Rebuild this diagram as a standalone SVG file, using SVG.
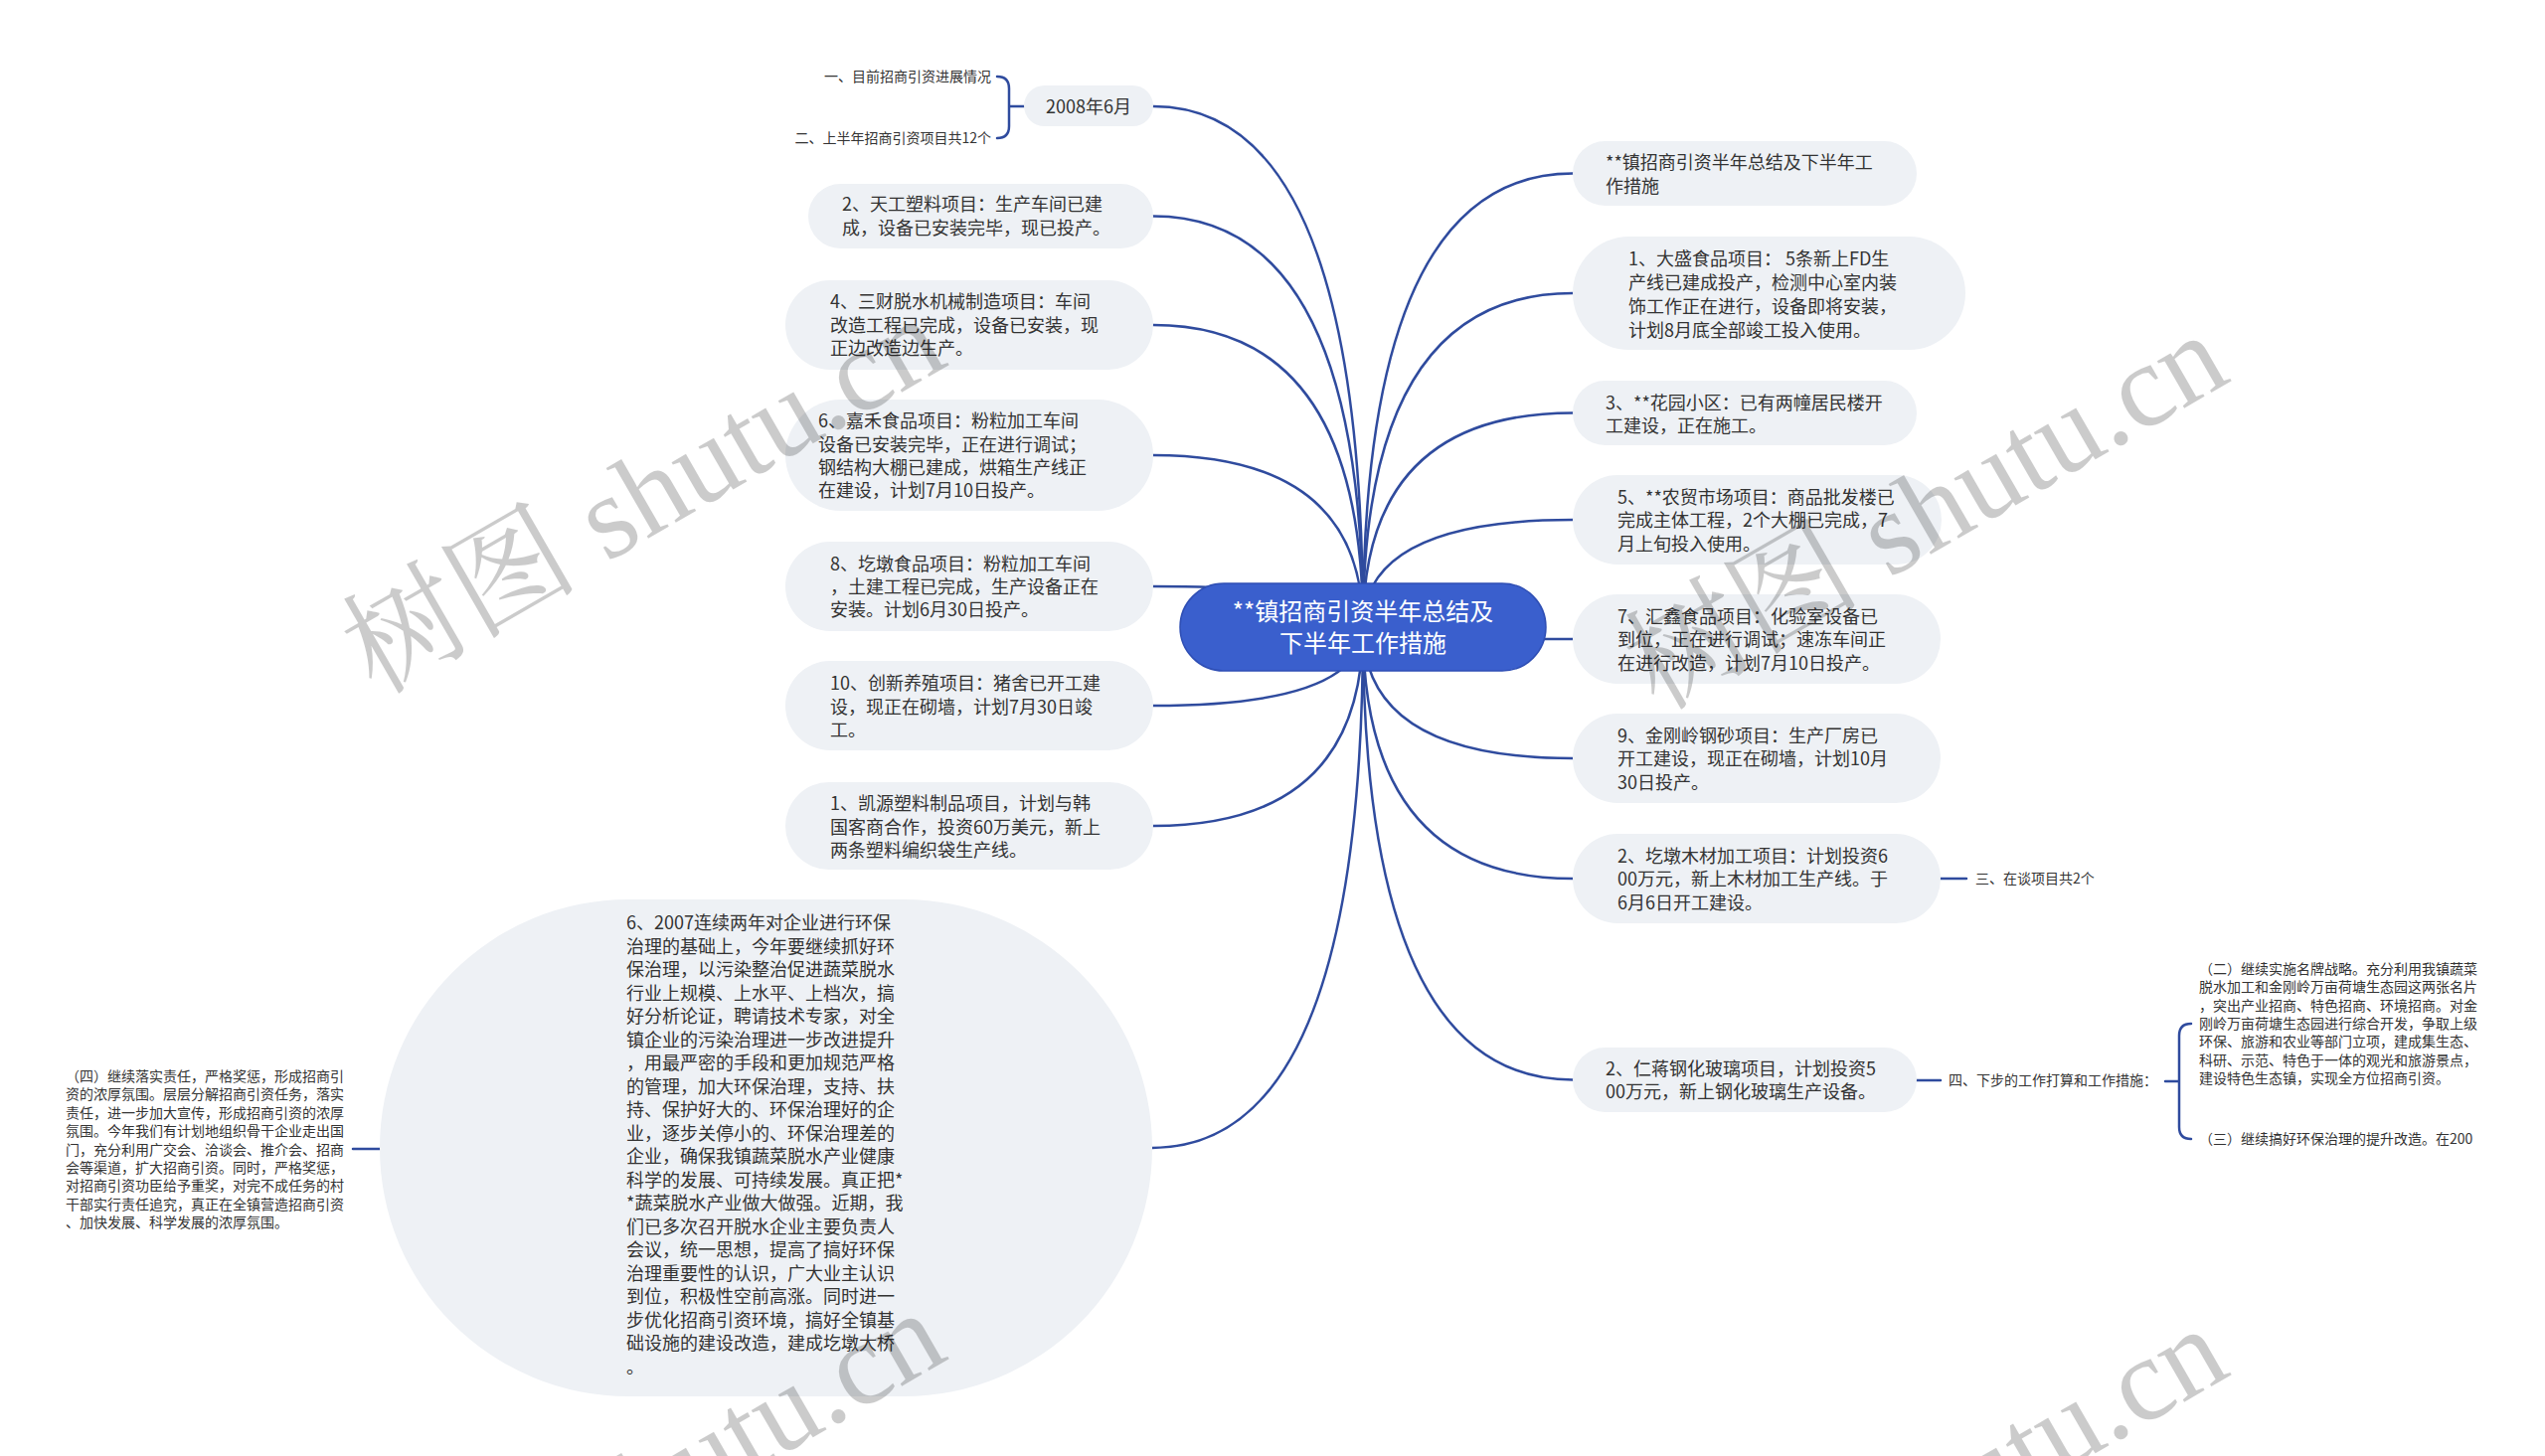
<svg xmlns="http://www.w3.org/2000/svg" width="2560" height="1465" viewBox="0 0 2560 1465">
<style>
.box{fill:#eef1f5}
.t{font-family:"Noto Sans CJK SC","Noto Sans",sans-serif;font-size:18px;fill:#333}
.s{font-family:"Noto Sans CJK SC","Noto Sans",sans-serif;font-size:14px;fill:#333}
.c{font-family:"Noto Sans CJK SC","Noto Sans",sans-serif;font-size:24px;fill:#fff}
.ln{fill:none;stroke:#2f4b9e;stroke-width:2.5;stroke-linecap:round}
.wm{font-family:"Liberation Serif","Noto Serif CJK SC","Noto Sans CJK SC",serif;font-size:119px;fill:#000;opacity:0.2}
</style>
<rect width="2560" height="1465" fill="#fff"/>
<g id="connectors">
<path class="ln" d="M1371 631 Q1371 107 1160 107"/>
<path class="ln" d="M1371 631 Q1371 217.5 1160 217.5"/>
<path class="ln" d="M1371 631 Q1371 327 1160 327"/>
<path class="ln" d="M1371 631 Q1371 458 1160 458"/>
<path class="ln" d="M1371 631 Q1371 590 1160 590"/>
<path class="ln" d="M1371 631 Q1371 710 1160 710"/>
<path class="ln" d="M1371 631 Q1371 831 1160 831"/>
<path class="ln" d="M1371 631 Q1371 1155 1159 1155"/>
<path class="ln" d="M1371 631 Q1371 174.5 1582 174.5"/>
<path class="ln" d="M1371 631 Q1371 295 1582 295"/>
<path class="ln" d="M1371 631 Q1371 415.5 1582 415.5"/>
<path class="ln" d="M1371 631 Q1371 523 1582 523"/>
<path class="ln" d="M1371 631 Q1371 643 1582 643"/>
<path class="ln" d="M1371 631 Q1371 763 1582 763"/>
<path class="ln" d="M1371 631 Q1371 884 1582 884"/>
<path class="ln" d="M1371 631 Q1371 1086.5 1582 1086.5"/>
<path class="ln" d="M1003 77 Q1015 77 1015 89 L1015 127 Q1015 139 1003 139 M1015 107 L1030 107"/>
<path class="ln" d="M1952 884 L1978 884"/>
<path class="ln" d="M1928 1087 L1952 1087"/>
<path class="ln" d="M2204 1030 Q2192 1030 2192 1042 L2192 1134 Q2192 1146 2204 1146 M2192 1088 L2178 1088"/>
<path class="ln" d="M382 1156 L355 1156"/>
</g>
<g id="root">
<rect x="1187" y="587" width="368" height="88" rx="44" fill="#3a5fcd" stroke="#2f4fb5" stroke-width="1.5"/>
<text class="c" x="1371" y="624" text-anchor="middle">**镇招商引资半年总结及</text>
<text class="c" x="1371" y="656" text-anchor="middle">下半年工作措施</text>
</g>
<g id="n2008">
<rect class="box" x="1030" y="86" width="130" height="41" rx="20.5"/>
<text class="t" x="1095" y="114" text-anchor="middle">2008年6月</text>
</g>
<g id="n2008a"><text class="s" x="997" y="82" text-anchor="end">一、目前招商引资进展情况</text></g>
<g id="n2008b"><text class="s" x="997" y="144" text-anchor="end">二、上半年招商引资项目共12个</text></g>
<g id="nL2">
<rect class="box" x="813" y="185" width="347" height="65" rx="32.5"/>
<text class="t" x="847" y="212">2、天工塑料项目：生产车间已建</text>
<text class="t" x="847" y="236">成，设备已安装完毕，现已投产。</text>
</g>
<g id="nL4">
<rect class="box" x="790" y="282" width="370" height="90" rx="45"/>
<text class="t" x="835" y="310">4、三财脱水机械制造项目：车间</text>
<text class="t" x="835" y="333.5">改造工程已完成，设备已安装，现</text>
<text class="t" x="835" y="357">正边改造边生产。</text>
</g>
<g id="nL6">
<rect class="box" x="790" y="402" width="370" height="112" rx="56"/>
<text class="t" x="823" y="430">6、嘉禾食品项目：粉粒加工车间</text>
<text class="t" x="823" y="454">设备已安装完毕，正在进行调试；</text>
<text class="t" x="823" y="477">钢结构大棚已建成，烘箱生产线正</text>
<text class="t" x="823" y="500">在建设，计划7月10日投产。</text>
</g>
<g id="nL8">
<rect class="box" x="790" y="545" width="370" height="90" rx="45"/>
<text class="t" x="835" y="574">8、圪墩食品项目：粉粒加工车间</text>
<text class="t" x="835" y="597">，土建工程已完成，生产设备正在</text>
<text class="t" x="835" y="620">安装。计划6月30日投产。</text>
</g>
<g id="nL10">
<rect class="box" x="790" y="665" width="370" height="90" rx="45"/>
<text class="t" x="835" y="694">10、创新养殖项目：猪舍已开工建</text>
<text class="t" x="835" y="718">设，现正在砌墙，计划7月30日竣</text>
<text class="t" x="835" y="741">工。</text>
</g>
<g id="nL1">
<rect class="box" x="790" y="787" width="370" height="88" rx="44"/>
<text class="t" x="835" y="815">1、凯源塑料制品项目，计划与韩</text>
<text class="t" x="835" y="839">国客商合作，投资60万美元，新上</text>
<text class="t" x="835" y="862">两条塑料编织袋生产线。</text>
</g>
<g id="nBig">
<rect class="box" x="382" y="905" width="777" height="500" rx="250"/>
<text class="t" x="630" y="935">6、2007连续两年对企业进行环保</text>
<text class="t" x="630" y="958.5">治理的基础上，今年要继续抓好环</text>
<text class="t" x="630" y="982">保治理，以污染整治促进蔬菜脱水</text>
<text class="t" x="630" y="1005.5">行业上规模、上水平、上档次，搞</text>
<text class="t" x="630" y="1029">好分析论证，聘请技术专家，对全</text>
<text class="t" x="630" y="1052.5">镇企业的污染治理进一步改进提升</text>
<text class="t" x="630" y="1076">，用最严密的手段和更加规范严格</text>
<text class="t" x="630" y="1099.5">的管理，加大环保治理，支持、扶</text>
<text class="t" x="630" y="1123">持、保护好大的、环保治理好的企</text>
<text class="t" x="630" y="1146.5">业，逐步关停小的、环保治理差的</text>
<text class="t" x="630" y="1170">企业，确保我镇蔬菜脱水产业健康</text>
<text class="t" x="630" y="1193.5">科学的发展、可持续发展。真正把*</text>
<text class="t" x="630" y="1217">*蔬菜脱水产业做大做强。近期，我</text>
<text class="t" x="630" y="1240.5">们已多次召开脱水企业主要负责人</text>
<text class="t" x="630" y="1264">会议，统一思想，提高了搞好环保</text>
<text class="t" x="630" y="1287.5">治理重要性的认识，广大业主认识</text>
<text class="t" x="630" y="1311">到位，积极性空前高涨。同时进一</text>
<text class="t" x="630" y="1334.5">步优化招商引资环境，搞好全镇基</text>
<text class="t" x="630" y="1358">础设施的建设改造，建成圪墩大桥</text>
<text class="t" x="630" y="1381.5">。</text>
</g>
<g id="nBigChild">
<text class="s" x="66" y="1088">（四）继续落实责任，严格奖惩，形成招商引</text>
<text class="s" x="66" y="1106.4">资的浓厚氛围。层层分解招商引资任务，落实</text>
<text class="s" x="66" y="1124.8">责任，进一步加大宣传，形成招商引资的浓厚</text>
<text class="s" x="66" y="1143.2">氛围。今年我们有计划地组织骨干企业走出国</text>
<text class="s" x="66" y="1161.6">门，充分利用广交会、洽谈会、推介会、招商</text>
<text class="s" x="66" y="1180">会等渠道，扩大招商引资。同时，严格奖惩，</text>
<text class="s" x="66" y="1198.4">对招商引资功臣给予重奖，对完不成任务的村</text>
<text class="s" x="66" y="1216.8">干部实行责任追究，真正在全镇营造招商引资</text>
<text class="s" x="66" y="1235.2">、加快发展、科学发展的浓厚氛围。</text>
</g>
<g id="nR0">
<rect class="box" x="1582" y="142" width="346" height="65" rx="32.5"/>
<text class="t" x="1615" y="170">**镇招商引资半年总结及下半年工</text>
<text class="t" x="1615" y="194">作措施</text>
</g>
<g id="nR1">
<rect class="box" x="1582" y="238" width="395" height="114" rx="57"/>
<text class="t" x="1638" y="267">1、大盛食品项目： 5条新上FD生</text>
<text class="t" x="1638" y="291">产线已建成投产，检测中心室内装</text>
<text class="t" x="1638" y="315">饰工作正在进行，设备即将安装，</text>
<text class="t" x="1638" y="339">计划8月底全部竣工投入使用。</text>
</g>
<g id="nR3">
<rect class="box" x="1582" y="383" width="346" height="65" rx="32.5"/>
<text class="t" x="1615" y="412">3、**花园小区：已有两幢居民楼开</text>
<text class="t" x="1615" y="435">工建设，正在施工。</text>
</g>
<g id="nR5">
<rect class="box" x="1582" y="478" width="371" height="90" rx="45"/>
<text class="t" x="1627" y="507">5、**农贸市场项目：商品批发楼已</text>
<text class="t" x="1627" y="530">完成主体工程，2个大棚已完成，7</text>
<text class="t" x="1627" y="554">月上旬投入使用。</text>
</g>
<g id="nR7">
<rect class="box" x="1582" y="598" width="370" height="90" rx="45"/>
<text class="t" x="1627" y="627">7、汇鑫食品项目：化验室设备已</text>
<text class="t" x="1627" y="650">到位，正在进行调试；速冻车间正</text>
<text class="t" x="1627" y="674">在进行改造，计划7月10日投产。</text>
</g>
<g id="nR9">
<rect class="box" x="1582" y="718" width="370" height="90" rx="45"/>
<text class="t" x="1627" y="747">9、金刚岭钢砂项目：生产厂房已</text>
<text class="t" x="1627" y="770">开工建设，现正在砌墙，计划10月</text>
<text class="t" x="1627" y="794">30日投产。</text>
</g>
<g id="nR2a">
<rect class="box" x="1582" y="839" width="370" height="90" rx="45"/>
<text class="t" x="1627" y="868">2、圪墩木材加工项目：计划投资6</text>
<text class="t" x="1627" y="891">00万元，新上木材加工生产线。于</text>
<text class="t" x="1627" y="915">6月6日开工建设。</text>
</g>
<g id="nR2aChild"><text class="s" x="1987" y="889">三、在谈项目共2个</text></g>
<g id="nR2b">
<rect class="box" x="1582" y="1054" width="346" height="65" rx="32.5"/>
<text class="t" x="1615" y="1082">2、仁蒋钢化玻璃项目，计划投资5</text>
<text class="t" x="1615" y="1105">00万元，新上钢化玻璃生产设备。</text>
</g>
<g id="nR2bChild"><text class="s" x="1960" y="1092">四、下步的工作打算和工作措施：</text></g>
<g id="nStep2">
<text class="s" x="2212" y="980">（二）继续实施名牌战略。充分利用我镇蔬菜</text>
<text class="s" x="2212" y="998.3">脱水加工和金刚岭万亩荷塘生态园这两张名片</text>
<text class="s" x="2212" y="1016.6">，突出产业招商、特色招商、环境招商。对金</text>
<text class="s" x="2212" y="1034.9">刚岭万亩荷塘生态园进行综合开发，争取上级</text>
<text class="s" x="2212" y="1053.2">环保、旅游和农业等部门立项，建成集生态、</text>
<text class="s" x="2212" y="1071.5">科研、示范、特色于一体的观光和旅游景点，</text>
<text class="s" x="2212" y="1089.8">建设特色生态镇，实现全方位招商引资。</text>
</g>
<g id="nStep3"><text class="s" x="2212" y="1151">（三）继续搞好环保治理的提升改造。在200</text></g>
<g id="watermark">
<text class="wm" transform="translate(378 700) rotate(-30)">树图 shutu.cn</text>
<text class="wm" transform="translate(1668 716) rotate(-30)">树图 shutu.cn</text>
<text class="wm" transform="translate(378 1700) rotate(-30)">树图 shutu.cn</text>
<text class="wm" transform="translate(1668 1716) rotate(-30)">树图 shutu.cn</text>
</g>
</svg>
